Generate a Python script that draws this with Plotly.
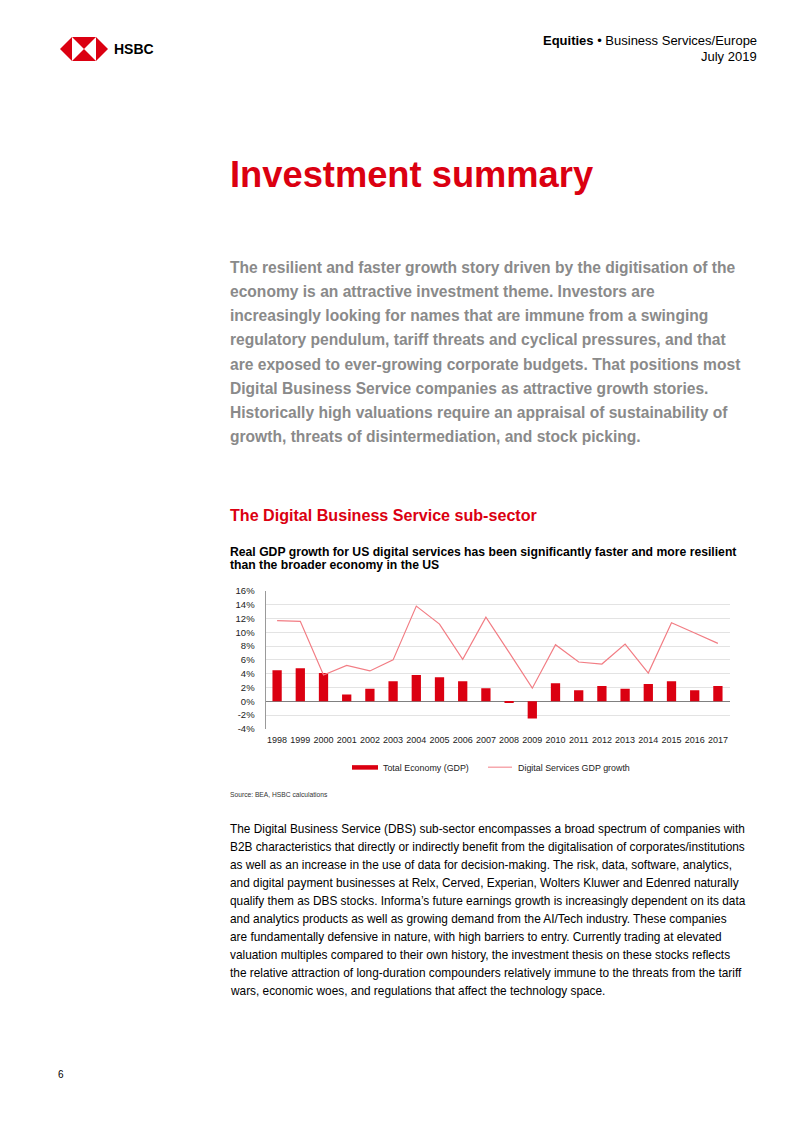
import plotly.graph_objects as go

W, H = 802, 1133

# ---- data ----
years = [str(y) for y in range(1998, 2018)]
total_economy_gdp = [4.5, 4.8, 4.1, 1.0, 1.8, 2.9, 3.8, 3.5, 2.9, 1.9,
                     -0.1, -2.5, 2.6, 1.6, 2.2, 1.8, 2.5, 2.9, 1.6, 2.2]
digital_services_gdp = [11.7, 11.6, 3.8, 5.2, 4.4, 6.0, 13.8, 11.2, 6.1, 12.2,
                        7.1, 1.9, 8.2, 5.7, 5.4, 8.3, 4.1, 11.4, 9.9, 8.4]
y_ticks = list(range(-4, 17, 2))
y_tick_labels = [f"{v}%" for v in y_ticks]

RED = "#DB0011"
PINK = "#F27D84"
GRAY_TXT = "#8A8A8A"
SANS = "Liberation Sans, Arial, sans-serif"
NARROW = "Liberation Sans Narrow, Arial Narrow, Liberation Sans, sans-serif"


def Y(y):
    # page y position (pixels from top) -> layout pixel
    return (y - 7.1) / 0.988


def px(x):
    return x / W


def py(y):
    return 1 - Y(y) / H


fig = go.Figure()
fig.add_trace(go.Bar(x=years, y=total_economy_gdp, name="Total Economy (GDP)",
                     marker=dict(color=RED, line=dict(width=0)), width=0.4,
                     showlegend=False))
fig.add_trace(go.Scatter(x=years, y=digital_services_gdp, mode="lines",
                         name="Digital Services GDP growth",
                         line=dict(color=PINK, width=1.2), showlegend=False))

# plot area in pixels
x0, x1 = 265.5, 729.5
y_top, y_bot = 590.7, 728.3

fig.update_layout(
    width=W, height=H, margin=dict(l=0, r=0, t=0, b=0),
    paper_bgcolor="white", plot_bgcolor="white",
    font=dict(family=SANS, color="#222222"),
    xaxis=dict(domain=[px(x0), px(x1)], type="category", showgrid=False,
               showline=False, ticks="", tickangle=0,
               tickfont=dict(family=NARROW, size=9, color="#222"),
               ticklabelstandoff=4, zeroline=False),
    yaxis=dict(domain=[py(y_bot), py(y_top)], range=[-4, 16], tickvals=y_ticks,
               ticktext=y_tick_labels, showgrid=True, gridcolor="#E3E3E3", gridwidth=1,
               showline=True, linecolor="#9A9A9A", linewidth=1, ticks="",
               zeroline=True, zerolinecolor="#808080", zerolinewidth=1,
               tickfont=dict(family=NARROW, size=9.5, color="#222"),
               ticklabelstandoff=8),
)

ann = []
shapes = []


def text(x, y, s, size, color="#000", bold=False, family=SANS, xanchor="left"):
    if bold:
        s = f"<b>{s}</b>"
    ann.append(dict(x=px(x), y=py(y), xref="paper", yref="paper", text=s,
                    showarrow=False, xanchor=xanchor, yanchor="middle",
                    font=dict(family=family, size=size, color=color)))


# ---- header ----
def poly(pts, color):
    d = "M " + " L ".join(f"{px(a)},{py(b)}" for a, b in pts) + " Z"
    shapes.append(dict(type="path", path=d, xref="paper", yref="paper",
                       fillcolor=color, line=dict(width=0)))


lx0, lx1, sx0, sx1, ly0, ly1 = 60, 108, 72, 96, 38, 62
cy = (ly0 + ly1) / 2
cx = (sx0 + sx1) / 2
poly([(sx0, ly0), (lx0, cy), (sx0, ly1)], RED)
poly([(sx1, ly0), (lx1, cy), (sx1, ly1)], RED)
poly([(sx0, ly0), (sx1, ly0), (cx, cy)], RED)
poly([(sx0, ly1), (sx1, ly1), (cx, cy)], RED)
text(112, 50, "HSBC", 14, "#000", bold=True)

text(759, 42, "<b>Equities</b> \u2022 Business Services/Europe", 13.0, "#000", xanchor="right")
text(759, 57, "July 2019", 13.0, "#000", xanchor="right")

# ---- title ----
text(228, 175, "Investment summary", 36.3, RED, bold=True)

summary = [
    "The resilient and faster growth story driven by the digitisation of the",
    "economy is an attractive investment theme. Investors are",
    "increasingly looking for names that are immune from a swinging",
    "regulatory pendulum, tariff threats and cyclical pressures, and that",
    "are exposed to ever-growing corporate budgets. That positions most",
    "Digital Business Service companies as attractive growth stories.",
    "Historically high valuations require an appraisal of sustainability of",
    "growth, threats of disintermediation, and stock picking.",
]
for i, line in enumerate(summary):
    text(228, 268 + i * 24.1, line, 15.6, GRAY_TXT, bold=True)

text(228, 515, "The Digital Business Service sub-sector", 16.1, RED, bold=True)
text(228, 552, "Real GDP growth for US digital services has been significantly faster and more resilient", 12.2, "#000", bold=True)
text(228, 565, "than the broader economy in the US", 12.2, "#000", bold=True)

# ---- legend (manual) ----
shapes.append(dict(type="rect", xref="paper", yref="paper", x0=px(352), x1=px(378),
                   y0=py(769), y1=py(764.5), fillcolor=RED, line=dict(width=0)))
text(381, 767, "Total Economy (GDP)", 8.9, "#222", family=NARROW)
shapes.append(dict(type="line", xref="paper", yref="paper", x0=px(488), x1=px(512),
                   y0=py(766.5), y1=py(766.5), line=dict(color=PINK, width=1)))
text(516, 767, "Digital Services GDP growth", 8.9, "#222", family=NARROW)

text(228, 794, "Source: BEA, HSBC calculations", 6.7, "#333", family=NARROW)

body = [
    "The Digital Business Service (DBS) sub-sector encompasses a broad spectrum of companies with",
    "B2B characteristics that directly or indirectly benefit from the digitalisation of corporates/institutions",
    "as well as an increase in the use of data for decision-making. The risk, data, software, analytics,",
    "and digital payment businesses at Relx, Cerved, Experian, Wolters Kluwer and Edenred naturally",
    "qualify them as DBS stocks. Informa\u2019s future earnings growth is increasingly dependent on its data",
    "and analytics products as well as growing demand from the AI/Tech industry. These companies",
    "are fundamentally defensive in nature, with high barriers to entry. Currently trading at elevated",
    "valuation multiples compared to their own history, the investment thesis on these stocks reflects",
    "the relative attraction of long-duration compounders relatively immune to the threats from the tariff",
    "wars, economic woes, and regulations that affect the technology space.",
]
for i, line in enumerate(body):
    text(228, 828 + i * 18.0, line, 11.85, "#000")

text(56, 1073, "6", 10, "#000")

fig.update_layout(annotations=ann, shapes=shapes)

fig.write_html("out.html", config={"displayModeBar": False},
               post_script="document.body.style.margin='0';document.body.style.overflow='hidden';")
